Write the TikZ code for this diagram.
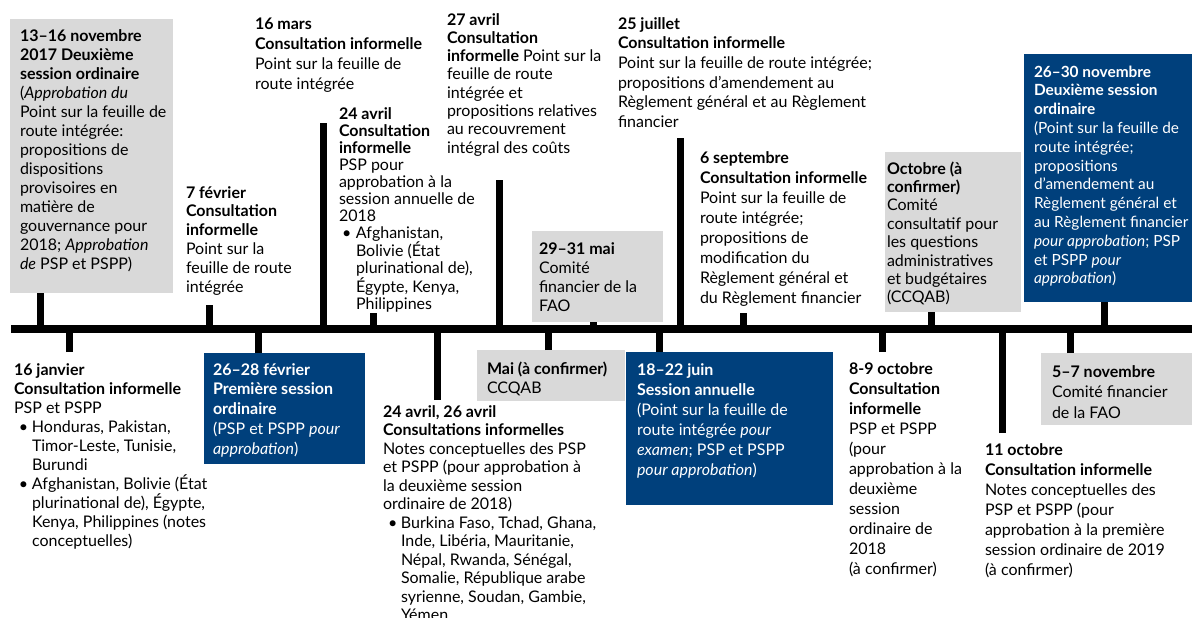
\documentclass[tikz,border=0pt]{standalone}
\usepackage{fontspec}
\setmainfont{Lato}
\definecolor{navy}{RGB}{0,64,124}
\definecolor{lgray}{RGB}{217,217,217}
\newcommand\ts{\rule{0pt}{17pt}}
\newcommand\bul{\makebox[18pt][l]{\hspace{5pt}\textbullet}}
\newcommand\ind{\makebox[18pt][l]{}}
\newcommand\bulD{\makebox[17pt][l]{\hspace{3pt}\textbullet}}
\newcommand\indD{\makebox[17pt][l]{}}
\begin{document}
\begin{tikzpicture}[x=1pt,y=-1pt,
  txt/.style={anchor=north west, inner sep=0pt, outer sep=0pt, align=left},
  ls/.style={font=\fontsize{16}{#1}\selectfont},
  lsj/.style={font=\fontsize{15.4}{#1}\selectfont},
  graybox/.style={anchor=north west, fill=lgray, inner sep=0pt, outer sep=0pt},
  navybox/.style={anchor=north west, fill=navy, inner sep=0pt, outer sep=0pt},
  tick/.style={line width=7pt, line cap=butt, black},
  bar/.style={fill=black, inner sep=0pt, outer sep=0pt, minimum width=1181pt, minimum height=8pt}]
\useasboundingbox (0,0) rectangle (1194,618);
% timeline
\node[bar] (tl) at (601.5,329) {};
% boxes
\node[graybox, minimum width=163pt, minimum height=274pt] (bA) at (10,19) {};
\node[graybox, minimum width=131pt, minimum height=91pt] (bF) at (532,231) {};
\node[graybox, minimum width=136pt, minimum height=160pt] (bI) at (885,152) {};
\node[navybox, minimum width=168pt, minimum height=248pt] (bJ) at (1024,54) {};
\node[navybox, minimum width=161pt, minimum height=111pt] (bL) at (204,353) {};
\node[graybox, minimum width=148pt, minimum height=51pt] (bN) at (477,350) {};
\node[navybox, minimum width=207pt, minimum height=153pt] (bO) at (626,352) {};
\node[graybox, minimum width=151pt, minimum height=72pt] (bR) at (1041,353) {};
% tick coordinates
\coordinate (kA) at (40,0);
\coordinate (kB) at (209.5,305);
\coordinate (kC) at (323.5,123);
\coordinate (kD) at (373.5,313);
\coordinate (kE) at (499,180);
\coordinate (kF) at (593,0);
\coordinate (kG) at (680,138);
\coordinate (kH) at (743.5,313);
\coordinate (kI) at (931.5,0);
\coordinate (kJ) at (1104.5,0);
\coordinate (kK) at (69,352);
\coordinate (kL) at (258,0);
\coordinate (kM) at (437,400);
\coordinate (kN) at (548,0);
\coordinate (kO) at (659.5,0);
\coordinate (kP) at (882,352);
\coordinate (kQ) at (1002,433);
\coordinate (kR) at (1070.5,0);
% ticks
\draw[tick] (bA.south -| kA) -- (kA |- tl.center);
\draw[tick] (kB) -- (kB |- tl.center);
\draw[tick] (kC) -- (kC |- tl.center);
\draw[tick] (kD) -- (kD |- tl.center);
\draw[tick] (kE) -- (kE |- tl.center);
\draw[tick] (bF.south -| kF) -- (kF |- tl.center);
\draw[tick] (kG) -- (kG |- tl.center);
\draw[tick] (kH) -- (kH |- tl.center);
\draw[tick] (bI.south -| kI) -- (kI |- tl.center);
\draw[tick] (bJ.south -| kJ) -- (kJ |- tl.center);
\draw[tick] (kK) -- (kK |- tl.center);
\draw[tick] (bL.north -| kL) -- (kL |- tl.center);
\draw[tick] (kM) -- (kM |- tl.center);
\draw[tick] (bN.north -| kN) -- (kN |- tl.center);
\draw[tick] (bO.north -| kO) -- (kO |- tl.center);
\draw[tick] (kP) -- (kP |- tl.center);
\draw[tick] (kQ) -- (kQ |- tl.center);
\draw[tick] (bR.north -| kR) -- (kR |- tl.center);
% texts above
\node[txt, ls=19] (tA) at (20,24) {\ts\textbf{13–16 novembre}\\ \textbf{2017 Deuxième}\\ \textbf{session ordinaire}\\ (\textit{Approbation du}\\ Point sur la feuille de\\ route intégrée:\\ propositions de\\ dispositions\\ provisoires en\\ matière de\\ gouvernance pour\\ 2018; \textit{Approbation}\\ \textit{de} PSP et PSPP)};
\node[txt, ls=18.8] (tB) at (186,181) {\ts\textbf{7 février}\\ \textbf{Consultation}\\ \textbf{informelle}\\ Point sur la\\ feuille de route\\ intégrée};
\node[txt, ls=20] (tC) at (255,12) {\ts\textbf{16 mars}\\ \textbf{Consultation informelle}\\ Point sur la feuille de\\ route intégrée};
\node[txt, ls=17] (tD) at (339,102) {\ts\textbf{24 avril}\\ \textbf{Consultation}\\ \textbf{informelle}\\ PSP pour\\ approbation à la\\ session annuelle de\\ 2018\\ \bulD Afghanistan,\\ \indD Bolivie (État\\ \indD plurinational de),\\ \indD Égypte, Kenya,\\ \indD Philippines};
\node[txt, ls=18.3] (tE) at (447,8) {\ts\textbf{27 avril}\\ \textbf{Consultation}\\ \textbf{informelle} Point sur la\\ feuille de route\\ intégrée et\\ propositions relatives\\ au recouvrement\\ intégral des coûts};
\node[txt, ls=19] (tF) at (539,237) {\ts\textbf{29–31 mai}\\ Comité\\ financier de la\\ FAO};
\node[txt, ls=19.7] (tG) at (618,12) {\ts\textbf{25 juillet}\\ \textbf{Consultation informelle}\\ Point sur la feuille de route intégrée;\\ propositions d’amendement au\\ Règlement général et au Règlement\\ financier};
\node[txt, ls=20] (tH) at (700,146) {\ts\textbf{6 septembre}\\ \textbf{Consultation informelle}\\ Point sur la feuille de\\ route intégrée;\\ propositions de\\ modification du\\ Règlement général et\\ du Règlement financier};
\node[txt, ls=18.4] (tI) at (887,157) {\ts\textbf{Octobre (à}\\ \textbf{confirmer)}\\ Comité\\ consultatif pour\\ les questions\\ administratives\\ et budgétaires\\ (CCQAB)};
\node[txt, lsj=18.8, text=white] (tJ) at (1034,60) {\ts\textbf{26–30 novembre}\\ \textbf{Deuxième session}\\ \textbf{ordinaire}\\ (Point sur la feuille de\\ route intégrée;\\ propositions\\ d'amendement au\\ Règlement général et\\ au Règlement financier\\ \textit{pour approbation}; PSP\\ et PSPP \textit{pour}\\ \textit{approbation})};
% texts below
\node[txt, ls=19] (tK) at (14,358) {\ts\textbf{16 janvier}\\ \textbf{Consultation informelle}\\ PSP et PSPP\\ \bul Honduras, Pakistan,\\ \ind Timor-Leste, Tunisie,\\ \ind Burundi\\ \bul Afghanistan, Bolivie (État\\ \ind plurinational de), Égypte,\\ \ind Kenya, Philippines (notes\\ \ind conceptuelles)};
\node[txt, ls=19.75, text=white] (tL) at (213,358) {\ts\textbf{26–28 février}\\ \textbf{Première session}\\ \textbf{ordinaire}\\ (PSP et PSPP \textit{pour}\\ \textit{approbation})};
\node[txt, ls=18.5] (tM) at (383,400) {\ts\textbf{24 avril, 26 avril}\\ \textbf{Consultations informelles}\\ Notes conceptuelles des PSP\\ et PSPP (pour approbation à\\ la deuxième session\\ ordinaire de 2018)\\ \bul Burkina Faso, Tchad, Ghana,\\ \ind Inde, Libéria, Mauritanie,\\ \ind Népal, Rwanda, Sénégal,\\ \ind Somalie, République arabe\\ \ind syrienne, Soudan, Gambie,\\ \ind Yémen};
\node[txt, ls=19] (tN) at (487,357) {\ts\textbf{Mai (à confirmer)}\\ CCQAB};
\node[txt, ls=20, text=white] (tO) at (637,358) {\ts\textbf{18–22 juin}\\ \textbf{Session annuelle}\\ (Point sur la feuille de\\ route intégrée \textit{pour}\\ \textit{examen}; PSP et PSPP\\ \textit{pour approbation})};
\node[txt, ls=20] (tP) at (849,357) {\ts\textbf{8-9 octobre}\\ \textbf{Consultation}\\ \textbf{informelle}\\ PSP et PSPP\\ (pour\\ approbation à la\\ deuxième\\ session\\ ordinaire de\\ 2018\\ (à confirmer)};
\node[txt, ls=20] (tQ) at (985,438) {\ts\textbf{11 octobre}\\ \textbf{Consultation informelle}\\ Notes conceptuelles des\\ PSP et PSPP (pour\\ approbation à la première\\ session ordinaire de 2019\\ (à confirmer)};
\node[txt, ls=20.5] (tR) at (1052,360) {\ts\textbf{5–7 novembre}\\ Comité financier\\ de la FAO};
\end{tikzpicture}
\end{document}
